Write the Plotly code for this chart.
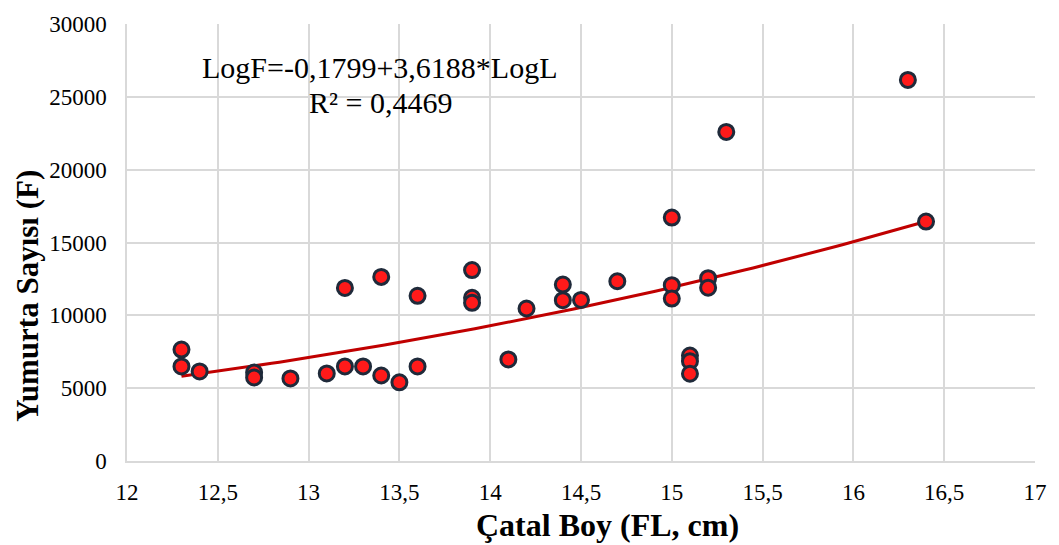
import numpy as np
import plotly.graph_objects as go

# Observed data: fork length (cm) vs egg count
fl = [12.3, 12.3, 12.4, 12.7, 12.7, 12.9, 13.1, 13.2, 13.2, 13.3, 13.4, 13.4, 13.5,
      13.6, 13.6, 13.9, 13.9, 13.9, 14.1, 14.2, 14.4, 14.4, 14.5, 14.7, 15.0, 15.0,
      15.0, 15.1, 15.1, 15.1, 15.2, 15.2, 15.3, 16.3, 16.4]
eggs = [7650, 6490, 6150, 6080, 5740, 5670, 6010, 6490, 11880, 6490, 5870, 12640, 5400,
        6490, 11340, 13110, 11200, 10860, 6970, 10470, 12110, 11040, 11060, 12340, 16710, 12070,
        11150, 7240, 6850, 5990, 12550, 11900, 22590, 26160, 16440]

# Power regression shown on the chart: LogF = a + b*LogL
coef_a = -0.1799
coef_b = 3.6188
eq_text = "LogF=-0,1799+3,6188*LogL"
r2_text = "R² = 0,4469"
x_title = "<b>Çatal Boy (FL, cm)</b>"
y_title = "<b>Yumurta Sayısı (F)</b>"

x_tickvals = [12, 12.5, 13, 13.5, 14, 14.5, 15, 15.5, 16, 16.5, 17]
x_ticktext = ["12", "12,5", "13", "13,5", "14", "14,5", "15", "15,5", "16", "16,5", "17"]
y_tickvals = [0, 5000, 10000, 15000, 20000, 25000, 30000]
y_ticktext = ["0", "5000", "10000", "15000", "20000", "25000", "30000"]

xfit = np.linspace(min(fl), max(fl), 100)
yfit = 10 ** (coef_a + coef_b * np.log10(xfit))

fig = go.Figure()
fig.add_trace(go.Scatter(x=xfit, y=yfit, mode="lines",
                         line=dict(color="#C00000", width=3), hoverinfo="skip",
                         showlegend=False))
fig.add_trace(go.Scatter(x=fl, y=eggs, mode="markers",
                         marker=dict(size=15, color="#FF1A1A",
                                     line=dict(color="#1F2A3A", width=3)),
                         showlegend=False))

font_family = "Liberation Serif"
ML, MR, MT, MB = 127, 24, 22, 84
W, H = 1059, 545
fig.update_layout(
    width=W, height=H,
    margin=dict(l=ML, r=MR, t=MT, b=MB),
    paper_bgcolor="white", plot_bgcolor="white",
    font=dict(family=font_family, color="black", size=22),
    xaxis=dict(range=[12, 17], tickvals=x_tickvals, ticktext=x_ticktext,
               showgrid=True, gridcolor="#D9D9D9", gridwidth=1.5,
               showline=True, linecolor="#D9D9D9", linewidth=1.5,
               zeroline=False, ticks="", ticklabelstandoff=10,
               tickfont=dict(size=23, family=font_family)),
    yaxis=dict(range=[0, 30000], tickvals=y_tickvals, ticktext=y_ticktext,
               showgrid=True, gridcolor="#D9D9D9", gridwidth=1.5,
               showline=True, linecolor="#D9D9D9", linewidth=1.5,
               zeroline=False, ticks="", ticklabelstandoff=14,
               tickfont=dict(size=23, family=font_family)),
)

pw = W - ML - MR
ph = H - MT - MB
def to_paper(px, py):
    return (px - ML) / pw, (H - MB - py) / ph

ax1, ay1 = to_paper(380, 83)
fig.add_annotation(x=ax1, y=ay1, xref="paper", yref="paper", text=eq_text,
                   xanchor="center", yanchor="bottom", borderpad=0,
                   showarrow=False, font=dict(size=30, family=font_family))
fig.add_annotation(x=ax1, y=ay1, xref="paper", yref="paper", text=r2_text,
                   xanchor="center", yanchor="top", borderpad=0,
                   showarrow=False, font=dict(size=30, family=font_family))

tx, ty = to_paper(607, 525)
fig.add_annotation(x=tx, y=ty, xref="paper", yref="paper", text=x_title,
                   xanchor="center", yanchor="middle", showarrow=False, borderpad=0,
                   font=dict(size=32, family=font_family))
yx, yy = to_paper(28, 295)
fig.add_annotation(x=yx, y=yy, xref="paper", yref="paper", text=y_title,
                   textangle=-90, xanchor="center", yanchor="middle", showarrow=False,
                   font=dict(size=31, family=font_family))

fig.write_html("out.html")
